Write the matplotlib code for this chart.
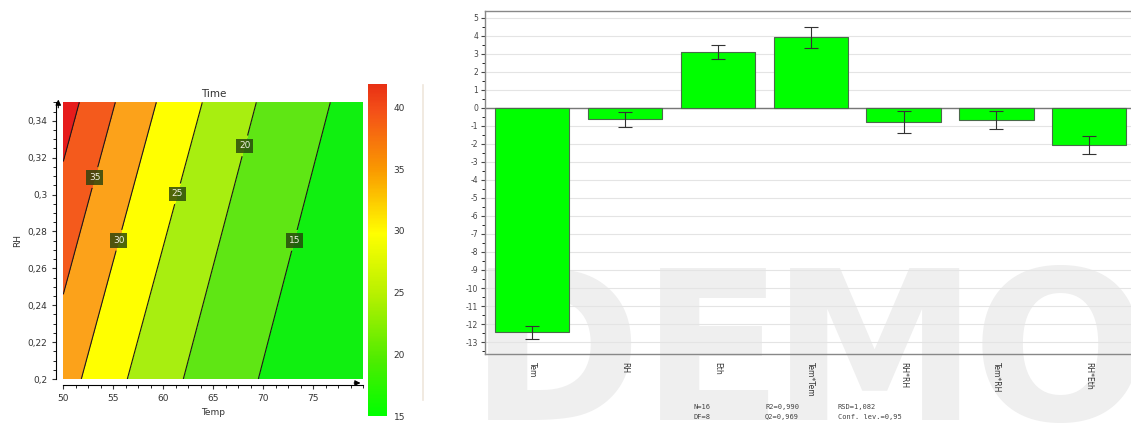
import numpy as np
import matplotlib
matplotlib.use("Agg")
import matplotlib.pyplot as plt
from matplotlib.colors import LinearSegmentedColormap, Normalize
from matplotlib.ticker import MultipleLocator, FuncFormatter
import matplotlib.cm as cm

plt.rcParams["axes.unicode_minus"] = False

# ---------------- data ----------------
# Response contour: Time levels and the Temp where each level line crosses
# the bottom (RH=0.20) and top (RH=0.35) edges of the plot
time_levels = [45, 40, 35, 30, 25, 20, 15, 10]
temp_at_rh_low = [41.0, 44.1, 47.7, 51.8, 56.4, 62.0, 69.5, 79.5]
temp_at_rh_high = [48.4, 51.6, 55.2, 59.3, 63.9, 69.3, 76.7, 86.7]
rh_low, rh_high = 0.20, 0.35
temp_range = (50, 80)

# label positions (Temp, RH) for the contour labels
label_levels = [35, 30, 25, 20, 15]
label_pos = [(53.3, 0.309), (55.7, 0.275), (61.7, 0.300), (68.4, 0.326), (73.2, 0.275)]

# Coefficient plot
terms = ["Tem", "RH", "Eth", "Tem*Tem", "RH*RH", "Tem*RH", "RH*Eth"]
coef = [-12.45, -0.65, 3.10, 3.90, -0.78, -0.67, -2.08]
conf = [0.37, 0.40, 0.40, 0.60, 0.62, 0.50, 0.49]
stats_row1 = ["N=16", "R2=0,990", "RSD=1,082"]
stats_row2 = ["DF=8", "Q2=0,969", "Conf. lev.=0,95"]

# ---------------- figure ----------------
W, H = 1131, 424
fig = plt.figure(figsize=(W / 100, H / 100), dpi=100)
fig.patch.set_facecolor("white")


def rect(x0, y0, x1, y1):
    """pixel box (top-left origin) -> figure fraction rect"""
    return [x0 / W, 1 - y1 / H, (x1 - x0) / W, (y1 - y0) / H]


# ---- contour panel ----
ax = fig.add_axes(rect(63.3, 102.3, 363.3, 379))
T = np.linspace(temp_range[0], temp_range[1], 400)
R = np.linspace(rh_low, rh_high, 300)
TT, RR = np.meshgrid(T, R)
frac = (RR - rh_low) / (rh_high - rh_low)
Z = np.empty_like(TT)
lo = np.array(temp_at_rh_low)
hi = np.array(temp_at_rh_high)
lv = np.array(time_levels, dtype=float)
for i in range(RR.shape[0]):
    cross = lo + (hi - lo) * frac[i, 0]
    Z[i] = np.interp(TT[i], cross, lv)

band_levels = [10, 15, 20, 25, 30, 35, 40, 45]
band_colors = ["#10f010", "#5fe614", "#a8ee10", "#ffff00", "#fca21a", "#f45a1c", "#e61c1c"]
ax.contourf(TT, RR, Z, levels=band_levels, colors=band_colors)
cs = ax.contour(TT, RR, Z, levels=[15, 20, 25, 30, 35, 40], colors="#1a1a1a", linewidths=0.8)
labels = ax.clabel(cs, levels=label_levels, inline=True, fmt="%d", fontsize=6.5,
                   manual=label_pos, colors="#f0f0e0")
for t in labels:
    t.set_bbox(dict(boxstyle="square,pad=0.3", fc="#24400c", ec="none", alpha=0.8))
    t.set_rotation(0)

ax.set_xlim(*temp_range)
ax.set_ylim(rh_low, rh_high)
ax.set_xticks([50, 55, 60, 65, 70, 75])
ax.set_yticks([0.20, 0.22, 0.24, 0.26, 0.28, 0.30, 0.32, 0.34])
ax.yaxis.set_major_formatter(FuncFormatter(lambda v, p: f"{v:.2f}".rstrip("0").replace(".", ",")))
ax.xaxis.set_minor_locator(MultipleLocator(1.25))
ax.yaxis.set_minor_locator(MultipleLocator(0.005))
ax.tick_params(labelsize=6.5, colors="#333333", length=3, width=0.8, direction="out")
ax.tick_params(which="minor", length=2, width=0.6)
ax.spines["top"].set_visible(False)
ax.spines["right"].set_visible(False)
ax.spines["left"].set_position(("outward", 5))
ax.spines["bottom"].set_position(("outward", 4))
ax.set_title("Time", fontsize=7.5, color="#333333", pad=4)
ax.set_xlabel("Temp", fontsize=6.5, color="#333333", labelpad=4)
ax.set_ylabel("RH", fontsize=6.5, color="#333333", labelpad=4)
# axis arrowheads
ax.annotate("", xy=(1.0, -4 / 277), xytext=(0.96, -4 / 277), xycoords="axes fraction",
            arrowprops=dict(arrowstyle="-|>", color="black", lw=0.8, mutation_scale=8),
            annotation_clip=False)
ax.annotate("", xy=(-5 / 300, 1.02), xytext=(-5 / 300, 0.97), xycoords="axes fraction",
            arrowprops=dict(arrowstyle="-|>", color="black", lw=0.8, mutation_scale=8),
            annotation_clip=False)

# colour bar
cmap = LinearSegmentedColormap.from_list(
    "time_scale",
    [(0.0, "#00ff00"), (0.17, "#4fec00"), (0.36, "#b4f000"), (0.55, "#ffff00"),
     (0.74, "#fa9a00"), (0.92, "#f45018"), (1.0, "#e83014")])
cax = fig.add_axes(rect(368, 84, 386.7, 416))
sm = cm.ScalarMappable(norm=Normalize(15.0, 41.9), cmap=cmap)
cb = fig.colorbar(sm, cax=cax, ticks=[15, 20, 25, 30, 35, 40])
cb.outline.set_visible(False)
cax.tick_params(labelsize=6.5, colors="#333333", length=0, pad=5)
fig.add_artist(plt.Line2D([423 / W, 423 / W], [1 - 400 / H, 1 - 85 / H], color="#efe6dc", lw=1.2))

# ---- coefficient panel ----
bx = fig.add_axes(rect(485, 11.3, 1131, 354))
bx.set_facecolor("none")
# watermark behind the bars
for ch, xc in zip("DEMO", [555, 712, 875, 1060]):
    bx.text(xc / W, 1 - 362 / H, ch, fontsize=150, fontweight="bold", color="#efefef",
            ha="center", va="center", family="DejaVu Sans", zorder=0.5,
            transform=fig.transFigure, clip_on=False)
x = np.arange(len(terms))
bx.bar(x, coef, width=0.8, color="#00ff00", edgecolor="#4a6a4a", linewidth=0.8, zorder=3)
bx.errorbar(x, coef, yerr=conf, fmt="none", ecolor="#333333", elinewidth=0.8,
            capsize=5, capthick=0.8, zorder=4)
bx.axhline(0, color="#777777", lw=1.0, zorder=2)
bx.set_xlim(-0.51, 6.45)
bx.set_ylim(-13.66, 5.35)
bx.yaxis.set_major_locator(MultipleLocator(1))
bx.yaxis.set_minor_locator(MultipleLocator(0.5))
bx.grid(axis="y", which="major", color="#e4e4e4", lw=0.8, zorder=1)
bx.set_axisbelow(True)
bx.set_xticks(x)
bx.set_xticklabels(terms, rotation=270, fontsize=5.5, color="#333333")
bx.tick_params(axis="x", length=0, pad=6)
bx.tick_params(axis="y", labelsize=5.5, colors="#444444", length=3, width=0.8, pad=2)
bx.tick_params(axis="y", which="minor", length=2, width=0.6)
for s in ["left", "bottom", "top"]:
    bx.spines[s].set_color("#888888")
    bx.spines[s].set_linewidth(1.0)
bx.spines["right"].set_visible(False)

# model statistics
for txt, xp in zip(stats_row1, [693, 765, 838]):
    fig.text(xp / W, 1 - 407 / H, txt, fontsize=5, color="#444444", va="center", family="DejaVu Sans Mono")
for txt, xp in zip(stats_row2, [693, 765, 838]):
    fig.text(xp / W, 1 - 417 / H, txt, fontsize=5, color="#444444", va="center", family="DejaVu Sans Mono")

fig.savefig("out.png", dpi=100)
